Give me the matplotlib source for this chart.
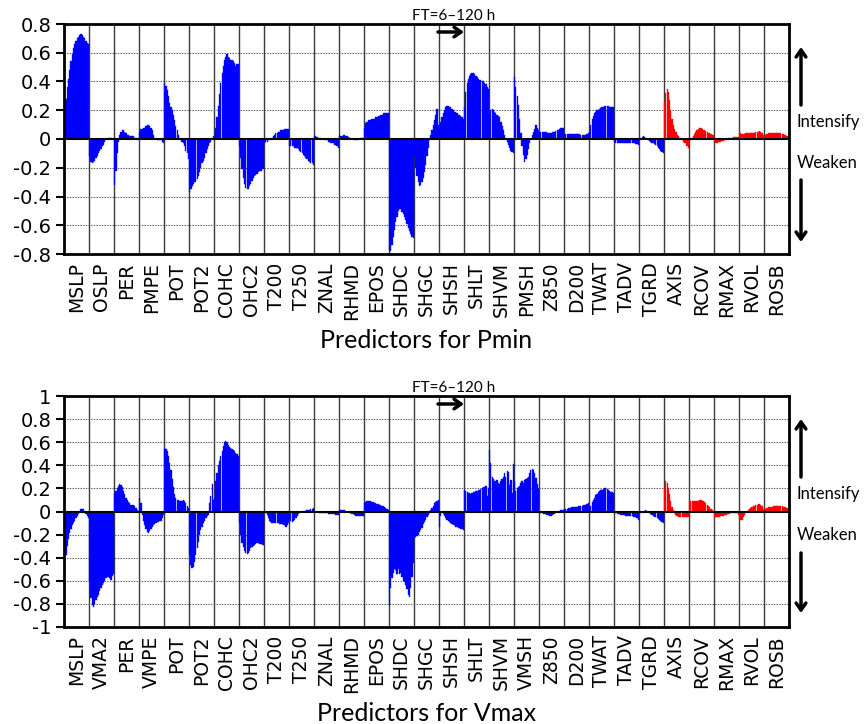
import matplotlib
matplotlib.use("Agg")
import matplotlib.pyplot as plt
from matplotlib.patches import FancyArrowPatch

# ---------------------------------------------------------------------------
# Predictor names (the last five are the new structure predictors, in red)
# ---------------------------------------------------------------------------
pmin_predictors = ["MSLP", "OSLP", "PER", "PMPE", "POT", "POT2", "COHC", "OHC2",
                   "T200", "T250", "ZNAL", "RHMD", "EPOS", "SHDC", "SHGC", "SHSH",
                   "SHLT", "SHVM", "PMSH", "Z850", "D200", "TWAT", "TADV", "TGRD",
                   "AXIS", "RCOV", "RMAX", "RVOL", "ROSB"]
vmax_predictors = ["MSLP", "VMA2", "PER", "VMPE", "POT", "POT2", "COHC", "OHC2",
                   "T200", "T250", "ZNAL", "RHMD", "EPOS", "SHDC", "SHGC", "SHSH",
                   "SHLT", "SHVM", "VMSH", "Z850", "D200", "TWAT", "TADV", "TGRD",
                   "AXIS", "RCOV", "RMAX", "RVOL", "ROSB"]
n_new = 5

# Coefficients for FT = 6, 12, ..., 120 h (20 forecast times per predictor)
# --- Pmin ---
pmin_mslp = [0.20, 0.28, 0.36, 0.42, 0.48, 0.54, 0.59, 0.63, 0.66, 0.68, 0.70, 0.71, 0.72, 0.73, 0.72, 0.71, 0.70, 0.68, 0.67, 0.66]
pmin_oslp = [-0.12, -0.16, -0.17, -0.16, -0.15, -0.13, -0.12, -0.10, -0.08, -0.07, -0.05, -0.04, -0.02, -0.01, 0.00, 0.01, 0.01, 0.01, 0.00, 0.00]
pmin_per = [-0.32, -0.22, -0.10, -0.02, 0.03, 0.05, 0.06, 0.06, 0.05, 0.04, 0.03, 0.03, 0.02, 0.02, 0.02, 0.02, 0.01, 0.01, 0.00, -0.01]
pmin_pmpe = [0.05, 0.07, 0.07, 0.08, 0.08, 0.09, 0.10, 0.10, 0.09, 0.08, 0.06, 0.03, 0.01, 0.00, -0.01, -0.01, -0.01, -0.01, -0.02, -0.03]
pmin_pot = [0.39, 0.37, 0.34, 0.30, 0.25, 0.22, 0.20, 0.17, 0.13, 0.09, 0.06, 0.03, 0.01, 0.00, -0.02, -0.03, -0.05, -0.08, -0.10, -0.14]
pmin_pot2 = [-0.37, -0.35, -0.33, -0.31, -0.30, -0.30, -0.28, -0.26, -0.23, -0.20, -0.17, -0.15, -0.13, -0.10, -0.07, -0.05, -0.03, -0.02, 0.00, 0.02]
pmin_cohc = [0.02, 0.08, 0.15, 0.23, 0.31, 0.39, 0.46, 0.51, 0.55, 0.57, 0.59, 0.57, 0.56, 0.55, 0.55, 0.54, 0.53, 0.51, 0.52, 0.52]
pmin_ohc2 = [-0.05, -0.13, -0.21, -0.27, -0.31, -0.34, -0.35, -0.35, -0.33, -0.31, -0.29, -0.27, -0.26, -0.25, -0.24, -0.23, -0.22, -0.22, -0.21, -0.21]
pmin_t200 = [-0.03, -0.02, -0.02, -0.01, -0.01, 0.00, 0.01, 0.02, 0.03, 0.04, 0.04, 0.05, 0.05, 0.06, 0.06, 0.06, 0.07, 0.07, 0.07, 0.07]
pmin_t250 = [-0.05, -0.05, -0.05, -0.05, -0.06, -0.06, -0.06, -0.07, -0.08, -0.09, -0.10, -0.11, -0.12, -0.13, -0.14, -0.15, -0.16, -0.17, -0.17, -0.18]
pmin_znal = [0.02, 0.02, 0.015, 0.01, 0.01, 0.01, 0.00, 0.00, -0.01, -0.01, -0.01, -0.02, -0.02, -0.03, -0.03, -0.03, -0.04, -0.04, -0.05, -0.06]
pmin_rhmd = [0.02, 0.02, 0.02, 0.025, 0.025, 0.02, 0.02, 0.015, 0.01, 0.005, 0.00, 0.00, -0.005, -0.005, -0.005, 0.00, 0.00, 0.005, 0.01, 0.01]
pmin_epos = [0.08, 0.11, 0.12, 0.13, 0.13, 0.13, 0.14, 0.14, 0.14, 0.15, 0.15, 0.16, 0.16, 0.17, 0.17, 0.18, 0.18, 0.18, 0.18, 0.18]
pmin_shdc = [-0.77, -0.78, -0.74, -0.68, -0.63, -0.58, -0.54, -0.50, -0.49, -0.49, -0.51, -0.52, -0.54, -0.56, -0.59, -0.62, -0.64, -0.66, -0.68, -0.69]
pmin_shgc = [-0.12, -0.20, -0.26, -0.30, -0.33, -0.32, -0.30, -0.27, -0.23, -0.18, -0.12, -0.06, -0.01, 0.03, 0.06, 0.10, 0.13, 0.17, 0.21, 0.10]
pmin_shsh = [0.08, 0.12, 0.15, 0.18, 0.20, 0.22, 0.23, 0.23, 0.22, 0.22, 0.21, 0.20, 0.19, 0.19, 0.18, 0.17, 0.17, 0.16, 0.15, 0.14]
pmin_shlt = [0.22, 0.33, 0.39, 0.42, 0.44, 0.45, 0.46, 0.46, 0.45, 0.44, 0.43, 0.42, 0.41, 0.41, 0.40, 0.40, 0.39, 0.38, 0.36, 0.35]
pmin_shvm = [0.17, 0.20, 0.21, 0.20, 0.19, 0.18, 0.17, 0.16, 0.15, 0.12, 0.09, 0.06, 0.03, 0.00, -0.02, -0.04, -0.06, -0.08, -0.09, -0.10]
pmin_pmsh = [0.43, 0.36, 0.30, 0.24, 0.14, 0.04, -0.05, -0.11, -0.16, -0.14, -0.11, -0.07, -0.03, 0.00, 0.03, 0.05, 0.07, 0.10, 0.08, 0.06]
pmin_z850 = [0.05, 0.05, 0.05, 0.05, 0.05, 0.05, 0.045, 0.045, 0.045, 0.045, 0.05, 0.05, 0.05, 0.055, 0.06, 0.065, 0.07, 0.075, 0.075, 0.075]
pmin_d200 = [0.03, 0.035, 0.035, 0.035, 0.035, 0.035, 0.035, 0.035, 0.035, 0.035, 0.035, 0.035, 0.035, 0.03, 0.03, 0.03, 0.03, 0.03, 0.035, 0.04]
pmin_twat = [0.05, 0.10, 0.14, 0.16, 0.18, 0.19, 0.20, 0.205, 0.21, 0.215, 0.22, 0.225, 0.23, 0.23, 0.23, 0.23, 0.225, 0.225, 0.22, 0.22]
pmin_tadv = [-0.02, -0.025, -0.03, -0.03, -0.03, -0.03, -0.03, -0.03, -0.03, -0.03, -0.03, -0.03, -0.03, -0.03, -0.03, -0.03, -0.03, -0.035, -0.035, -0.04]
pmin_tgrd = [0.00, 0.01, 0.015, 0.02, 0.015, 0.01, 0.00, -0.01, -0.015, -0.02, -0.025, -0.03, -0.035, -0.04, -0.05, -0.06, -0.07, -0.08, -0.09, -0.10]
pmin_axis = [0.26, 0.32, 0.35, 0.33, 0.27, 0.20, 0.14, 0.10, 0.07, 0.05, 0.03, 0.02, 0.01, 0.00, -0.01, -0.02, -0.025, -0.03, -0.05, -0.065]
pmin_rcov = [-0.005, 0.00, 0.01, 0.02, 0.035, 0.05, 0.06, 0.07, 0.075, 0.075, 0.07, 0.065, 0.06, 0.055, 0.05, 0.045, 0.04, 0.035, 0.03, 0.03]
pmin_rmax = [-0.02, -0.025, -0.025, -0.02, -0.02, -0.02, -0.015, -0.015, -0.01, -0.005, 0.00, 0.005, 0.005, 0.01, 0.01, 0.012, 0.015, 0.015, 0.015, 0.015]
pmin_rvol = [0.04, 0.04, 0.035, 0.035, 0.035, 0.04, 0.04, 0.04, 0.045, 0.045, 0.045, 0.045, 0.045, 0.05, 0.05, 0.05, 0.055, 0.05, 0.04, 0.03]
pmin_rosb = [0.02, 0.03, 0.035, 0.04, 0.04, 0.04, 0.045, 0.045, 0.045, 0.045, 0.04, 0.04, 0.04, 0.04, 0.035, 0.035, 0.03, 0.025, 0.02, 0.015]

# --- Vmax ---
vmax_mslp = [-0.47, -0.38, -0.30, -0.24, -0.19, -0.15, -0.12, -0.10, -0.08, -0.06, -0.04, -0.02, 0.00, 0.02, 0.025, 0.02, 0.00, -0.02, -0.04, -0.06]
vmax_vma2 = [-0.60, -0.75, -0.81, -0.83, -0.80, -0.77, -0.74, -0.72, -0.69, -0.66, -0.64, -0.62, -0.60, -0.58, -0.57, -0.57, -0.58, -0.59, -0.56, -0.54]
vmax_per = [0.16, 0.18, 0.20, 0.22, 0.235, 0.23, 0.21, 0.18, 0.15, 0.12, 0.10, 0.08, 0.07, 0.06, 0.06, 0.06, 0.05, 0.03, 0.01, 0.00]
vmax_vmpe = [0.12, 0.07, -0.03, -0.08, -0.12, -0.15, -0.18, -0.19, -0.17, -0.15, -0.13, -0.12, -0.11, -0.10, -0.09, -0.09, -0.08, -0.08, -0.06, -0.03]
vmax_pot = [0.55, 0.54, 0.52, 0.48, 0.42, 0.36, 0.28, 0.21, 0.15, 0.12, 0.10, 0.10, 0.09, 0.09, 0.09, 0.10, 0.09, 0.07, 0.05, 0.03]
vmax_pot2 = [-0.38, -0.46, -0.49, -0.48, -0.44, -0.38, -0.32, -0.26, -0.20, -0.16, -0.13, -0.10, -0.08, -0.06, -0.04, -0.03, 0.07, 0.13, 0.24, 0.10]
vmax_cohc = [0.12, 0.26, 0.33, 0.40, 0.44, 0.48, 0.52, 0.57, 0.60, 0.61, 0.60, 0.58, 0.56, 0.55, 0.54, 0.53, 0.52, 0.51, 0.50, 0.48]
vmax_ohc2 = [-0.10, -0.20, -0.27, -0.31, -0.34, -0.36, -0.37, -0.36, -0.34, -0.32, -0.31, -0.30, -0.29, -0.28, -0.27, -0.27, -0.28, -0.28, -0.29, -0.29]
vmax_t200 = [0.00, -0.01, -0.03, -0.06, -0.08, -0.09, -0.10, -0.10, -0.10, -0.10, -0.10, -0.10, -0.11, -0.11, -0.11, -0.12, -0.12, -0.13, -0.12, -0.10]
vmax_t250 = [-0.06, -0.08, -0.09, -0.085, -0.07, -0.06, -0.04, -0.02, -0.01, 0.00, 0.00, 0.005, 0.005, 0.005, 0.01, 0.01, 0.015, 0.02, 0.025, 0.03]
vmax_znal = [0.00, 0.00, -0.005, -0.005, -0.01, -0.01, -0.01, -0.01, -0.015, -0.015, -0.015, -0.02, -0.02, -0.02, -0.025, -0.025, -0.025, -0.03, -0.03, -0.03]
vmax_rhmd = [0.01, 0.015, 0.017, 0.015, 0.01, 0.005, 0.00, -0.005, -0.01, -0.015, -0.02, -0.025, -0.03, -0.035, -0.04, -0.04, -0.04, -0.04, -0.04, -0.04]
vmax_epos = [0.07, 0.085, 0.09, 0.09, 0.09, 0.09, 0.085, 0.08, 0.075, 0.07, 0.065, 0.065, 0.06, 0.055, 0.05, 0.045, 0.04, 0.03, 0.02, 0.01]
vmax_shdc = [-0.81, -0.66, -0.58, -0.53, -0.50, -0.51, -0.54, -0.50, -0.54, -0.53, -0.57, -0.60, -0.61, -0.64, -0.67, -0.72, -0.74, -0.66, -0.57, -0.45]
vmax_shgc = [-0.23, -0.22, -0.21, -0.20, -0.18, -0.16, -0.14, -0.11, -0.09, -0.07, -0.05, -0.03, -0.01, 0.01, 0.03, 0.05, 0.07, 0.08, 0.09, 0.10]
vmax_shsh = [-0.13, -0.04, 0.00, -0.02, -0.04, -0.06, -0.07, -0.08, -0.09, -0.10, -0.11, -0.12, -0.12, -0.13, -0.13, -0.14, -0.14, -0.15, -0.15, -0.16]
vmax_shlt = [0.19, 0.18, 0.17, 0.16, 0.16, 0.155, 0.16, 0.165, 0.17, 0.175, 0.18, 0.185, 0.19, 0.195, 0.20, 0.21, 0.215, 0.22, 0.13, 0.20]
vmax_shvm = [0.53, 0.42, 0.30, 0.28, 0.265, 0.26, 0.27, 0.245, 0.24, 0.26, 0.28, 0.30, 0.33, 0.30, 0.35, 0.34, 0.23, 0.27, 0.16, 0.41]
vmax_vmsh = [0.26, 0.18, 0.20, 0.215, 0.22, 0.245, 0.26, 0.25, 0.27, 0.28, 0.29, 0.30, 0.33, 0.36, 0.37, 0.36, 0.33, 0.29, 0.24, 0.20]
vmax_z850 = [-0.01, -0.015, -0.015, -0.02, -0.02, -0.025, -0.03, -0.03, -0.035, -0.035, -0.03, -0.025, -0.02, -0.01, -0.005, 0.00, 0.005, 0.01, 0.01, 0.01]
vmax_d200 = [0.02, 0.025, 0.025, 0.03, 0.03, 0.03, 0.035, 0.035, 0.04, 0.04, 0.04, 0.045, 0.045, 0.05, 0.05, 0.055, 0.06, 0.06, 0.065, 0.07]
vmax_twat = [0.03, 0.05, 0.08, 0.10, 0.12, 0.14, 0.15, 0.165, 0.175, 0.185, 0.19, 0.195, 0.20, 0.20, 0.195, 0.19, 0.18, 0.17, 0.165, 0.16]
vmax_tadv = [-0.01, -0.015, -0.02, -0.025, -0.025, -0.03, -0.03, -0.03, -0.03, -0.035, -0.035, -0.035, -0.04, -0.04, -0.04, -0.045, -0.05, -0.05, -0.06, -0.07]
vmax_tgrd = [-0.01, -0.01, -0.005, 0.00, 0.005, 0.01, 0.005, 0.00, -0.01, -0.02, -0.03, -0.04, -0.045, -0.05, -0.06, -0.065, -0.07, -0.08, -0.09, -0.10]
vmax_axis = [0.20, 0.26, 0.25, 0.20, 0.15, 0.09, 0.04, 0.01, -0.01, -0.03, -0.04, -0.05, -0.05, -0.05, -0.05, -0.05, -0.045, -0.045, -0.05, -0.05]
vmax_rcov = [0.10, 0.09, 0.09, 0.09, 0.09, 0.09, 0.09, 0.095, 0.10, 0.10, 0.095, 0.09, 0.08, 0.07, 0.06, 0.05, 0.04, 0.02, 0.01, 0.00]
vmax_rmax = [-0.055, -0.05, -0.05, -0.045, -0.045, -0.04, -0.04, -0.035, -0.03, -0.03, -0.025, -0.02, -0.02, -0.015, -0.015, -0.01, -0.01, -0.01, -0.015, -0.03]
vmax_rvol = [-0.06, -0.075, -0.07, -0.05, -0.03, -0.01, 0.00, 0.01, 0.02, 0.03, 0.04, 0.045, 0.05, 0.055, 0.06, 0.065, 0.065, 0.06, 0.05, 0.02]
vmax_rosb = [0.02, 0.025, 0.03, 0.035, 0.035, 0.04, 0.04, 0.045, 0.045, 0.045, 0.045, 0.045, 0.045, 0.045, 0.045, 0.04, 0.04, 0.035, 0.03, 0.025]

pmin_series = [pmin_mslp, pmin_oslp, pmin_per, pmin_pmpe, pmin_pot, pmin_pot2, pmin_cohc,
               pmin_ohc2, pmin_t200, pmin_t250, pmin_znal, pmin_rhmd, pmin_epos, pmin_shdc,
               pmin_shgc, pmin_shsh, pmin_shlt, pmin_shvm, pmin_pmsh, pmin_z850, pmin_d200,
               pmin_twat, pmin_tadv, pmin_tgrd, pmin_axis, pmin_rcov, pmin_rmax, pmin_rvol,
               pmin_rosb]
vmax_series = [vmax_mslp, vmax_vma2, vmax_per, vmax_vmpe, vmax_pot, vmax_pot2, vmax_cohc,
               vmax_ohc2, vmax_t200, vmax_t250, vmax_znal, vmax_rhmd, vmax_epos, vmax_shdc,
               vmax_shgc, vmax_shsh, vmax_shlt, vmax_shvm, vmax_vmsh, vmax_z850, vmax_d200,
               vmax_twat, vmax_tadv, vmax_tgrd, vmax_axis, vmax_rcov, vmax_rmax, vmax_rvol,
               vmax_rosb]

W, H = 865, 724
TICK_FONT = "DejaVu Sans"
TEXT_FONT = "Lato"

fig = plt.figure(figsize=(W / 100, H / 100), dpi=100)


def px_axes(left, top, right, bottom):
    return fig.add_axes([left / W, 1 - bottom / H, (right - left) / W, (bottom - top) / H])


def fx(x):
    return x / W


def fy(y):
    return 1 - y / H


def draw_panel(ax, names, series, ylim, yticks, xlabel):
    n = len(names)
    for i, vals in enumerate(series):
        m = len(vals)
        xs = [i + (j + 0.5) / m for j in range(m)]
        color = "#ff0000" if i >= n - n_new else "#0000ff"
        ax.bar(xs, vals, width=1.0 / m, color=color, edgecolor=color,
               linewidth=0.25, zorder=2)
    ax.set_xlim(0, n)
    ax.set_ylim(*ylim)
    for k in range(1, n):
        ax.axvline(k, color="#3a3a3a", lw=1.0, zorder=1)
    for yv in yticks:
        if abs(yv) > 1e-9 and ylim[0] < yv < ylim[1]:
            ax.axhline(yv, color="#555555", lw=0.8, ls=(0, (1.2, 1.2)), zorder=1)
    ax.axhline(0, color="black", lw=1.5, zorder=3)
    ax.set_yticks(yticks)
    ax.set_yticklabels([("%g" % v) for v in yticks], fontfamily=TICK_FONT, fontsize=14)
    ax.tick_params(axis="y", direction="out", length=6, width=1.5, pad=3)
    ax.set_xticks([i + 0.5 for i in range(n)])
    ax.set_xticklabels(names, rotation=90, fontfamily=TICK_FONT, fontsize=13.5)
    ax.tick_params(axis="x", length=0, pad=6)
    ax.set_xlabel(xlabel, fontfamily=TEXT_FONT, fontsize=18, labelpad=6)
    for s in ax.spines.values():
        s.set_linewidth(2.0)
        s.set_zorder(4)


def arrow(x0, y0, x1, y1):
    fig.add_artist(FancyArrowPatch((fx(x0), fy(y0)), (fx(x1), fy(y1)),
                                   transform=fig.transFigure,
                                   arrowstyle="->,head_length=5,head_width=3.5",
                                   lw=2.5, color="black", shrinkA=0, shrinkB=0))


def side_notes(top, arrow_top, up_tail, down_tail, arrow_bottom, y_int, y_weak):
    # forecast-time direction marker within the SHSH column
    fig.text(fx(454), fy(top - 8), "FT=6\u2013120 h", fontfamily=TEXT_FONT,
             fontsize=11, ha="center", va="center")
    arrow(438, top + 8, 464, top + 8)
    # intensify / weaken annotations
    fig.text(fx(797), fy(y_int), "Intensify", fontfamily=TEXT_FONT, fontsize=12,
             ha="left", va="center")
    fig.text(fx(797), fy(y_weak), "Weaken", fontfamily=TEXT_FONT, fontsize=12,
             ha="left", va="center")
    arrow(801, up_tail, 801, arrow_top)
    arrow(801, down_tail, 801, arrow_bottom)


ax1 = px_axes(64, 24, 789, 254)
draw_panel(ax1, pmin_predictors, pmin_series, (-0.8, 0.8),
           [-0.8, -0.6, -0.4, -0.2, 0, 0.2, 0.4, 0.6, 0.8], "Predictors for Pmin")
side_notes(24, 47, 105, 180, 242, 122, 163)

ax2 = px_axes(64, 396, 789, 627)
draw_panel(ax2, vmax_predictors, vmax_series, (-1.0, 1.0),
           [-1, -0.8, -0.6, -0.4, -0.2, 0, 0.2, 0.4, 0.6, 0.8, 1], "Predictors for Vmax")
side_notes(396, 419, 477, 553, 613, 494, 535)

fig.savefig("out.png", dpi=100)
